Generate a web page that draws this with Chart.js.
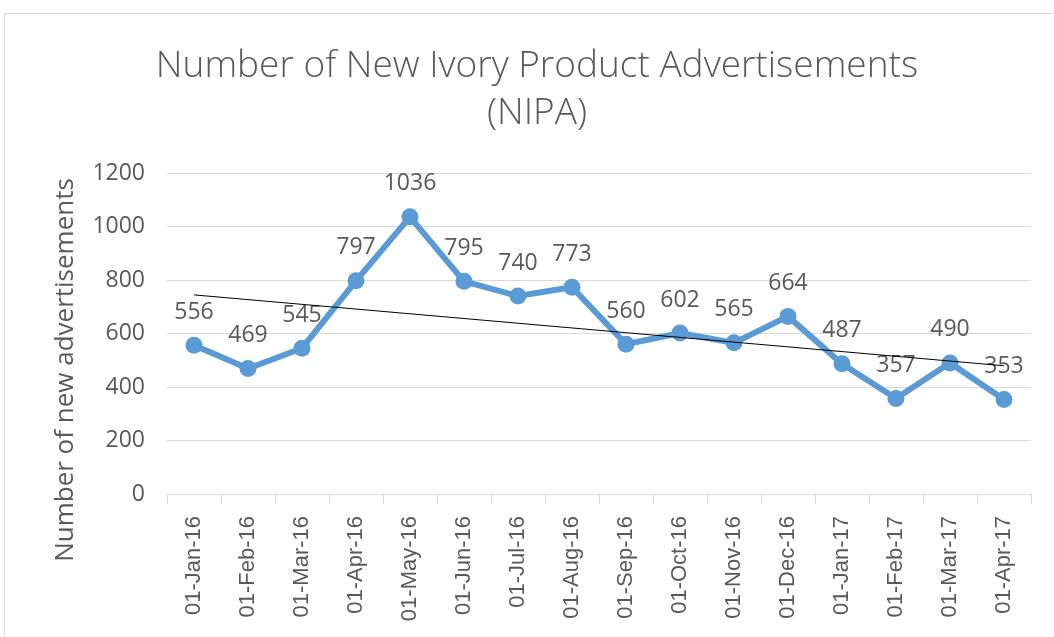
<!DOCTYPE html>
<html>
<head>
<meta charset="utf-8">
<script src="https://cdn.jsdelivr.net/npm/chart.js@4/dist/chart.umd.min.js"></script>
<style>
  html, body { margin: 0; padding: 0; background: #ffffff; }
  #wrap { position: relative; width: 1054px; height: 637px; }
</style>
</head>
<body>
<div id="wrap"><canvas id="c" width="1054" height="637"></canvas></div>
<script>
const categories = ['01-Jan-16','01-Feb-16','01-Mar-16','01-Apr-16','01-May-16','01-Jun-16','01-Jul-16','01-Aug-16','01-Sep-16','01-Oct-16','01-Nov-16','01-Dec-16','01-Jan-17','01-Feb-17','01-Mar-17','01-Apr-17'];
const nipaValues = [556, 469, 545, 797, 1036, 795, 740, 773, 560, 602, 565, 664, 487, 357, 490, 353];
const yTicks = [0, 200, 400, 600, 800, 1000, 1200];
const titleLines = ['Number of New Ivory Product Advertisements', '(NIPA)'];
const yAxisTitle = 'Number of new advertisements';

// Linear trendline (least squares) of the series, as in the original chart
function linearTrend(vals) {
  const n = vals.length;
  let sx = 0, sy = 0, sxy = 0, sxx = 0;
  vals.forEach((v, i) => { sx += i; sy += v; sxy += i * v; sxx += i * i; });
  const b = (n * sxy - sx * sy) / (n * sxx - sx * sx);
  const a = (sy - b * sx) / n;
  return vals.map((v, i) => (i === 0 || i === n - 1) ? a + b * i : null);
}
const trendValues = linearTrend(nipaValues);

const GRAY = '#595959';
const GRID = '#d9d9d9';

const framePlugin = {
  id: 'frame',
  beforeDraw(chart) {
    const ctx = chart.ctx;
    ctx.save();
    ctx.strokeStyle = GRID;
    ctx.lineWidth = 1;
    ctx.strokeRect(4.5, 13.5, 1200, 800);
    ctx.restore();
  }
};

const textPlugin = {
  id: 'fixedTexts',
  afterDraw(chart) {
    const ctx = chart.ctx;
    ctx.save();
    ctx.font = '300 37px "Open Sans"';
    ctx.fillStyle = GRAY;
    ctx.textAlign = 'center';
    ctx.textBaseline = 'alphabetic';
    ctx.fillText(titleLines[0], 537, 77);
    ctx.fillText(titleLines[1], 537, 124);
    // y axis title
    ctx.font = '26px "Open Sans"';
    ctx.textBaseline = 'middle';
    ctx.translate(66, 370);
    ctx.rotate(-Math.PI / 2);
    ctx.fillText(yAxisTitle, 0, 0);
    ctx.restore();
  }
};

const labelPlugin = {
  id: 'valueLabels',
  beforeDatasetsDraw(chart) {
    const ctx = chart.ctx;
    const idx = chart.data.datasets.findIndex(d => d.label === 'NIPA');
    const meta = chart.getDatasetMeta(idx);
    ctx.save();
    ctx.font = '23px "Open Sans"';
    ctx.fillStyle = GRAY;
    ctx.textAlign = 'center';
    ctx.textBaseline = 'middle';
    meta.data.forEach((pt, i) => {
      ctx.fillText(String(nipaValues[i]), pt.x, pt.y - 33);
    });
    ctx.restore();
  }
};

new Chart(document.getElementById('c'), {
  type: 'line',
  data: {
    labels: categories,
    datasets: [
      {
        label: 'Trend',
        data: trendValues,
        borderColor: '#000000',
        borderWidth: 1,
        pointRadius: 0,
        spanGaps: true,
        fill: false,
        order: 0
      },
      {
        label: 'NIPA',
        data: nipaValues,
        borderColor: '#5B9BD5',
        backgroundColor: '#5B9BD5',
        borderWidth: 6,
        pointRadius: 8.5,
        pointBorderWidth: 0,
        pointBackgroundColor: '#5B9BD5',
        tension: 0,
        fill: false,
        order: 1
      }
    ]
  },
  options: {
    responsive: false,
    animation: false,
    layout: { padding: { left: 0, right: 23, top: 173, bottom: 0 } },
    plugins: {
      legend: { display: false },
      tooltip: { enabled: false },
      title: { display: false }
    },
    scales: {
      x: {
        offset: true,
        grid: {
          display: true,
          offset: true,
          drawOnChartArea: false,
          drawTicks: true,
          tickLength: 10,
          color: GRID,
          lineWidth: 1
        },
        border: { display: true, color: GRID, width: 1 },
        ticks: {
          color: GRAY,
          font: { family: '"Liberation Sans"', size: 22 },
          maxRotation: 90,
          minRotation: 90,
          padding: 12,
          autoSkip: false
        },
        afterFit(scale) { scale.height = 143; }
      },
      y: {
        min: 0,
        max: 1200,
        afterBuildTicks(scale) { scale.ticks = yTicks.map(v => ({ value: v })); },
        grid: { color: GRID, lineWidth: 1, drawTicks: false },
        border: { display: false },
        ticks: {
          color: GRAY,
          font: { family: '"Open Sans"', size: 23 },
          padding: 22,
          callback: (v) => String(v)
        },
        title: { display: false },
        afterFit(scale) { scale.width = 167; }
      }
    }
  },
  plugins: [framePlugin, labelPlugin, textPlugin]
});
</script>
</body>
</html>
